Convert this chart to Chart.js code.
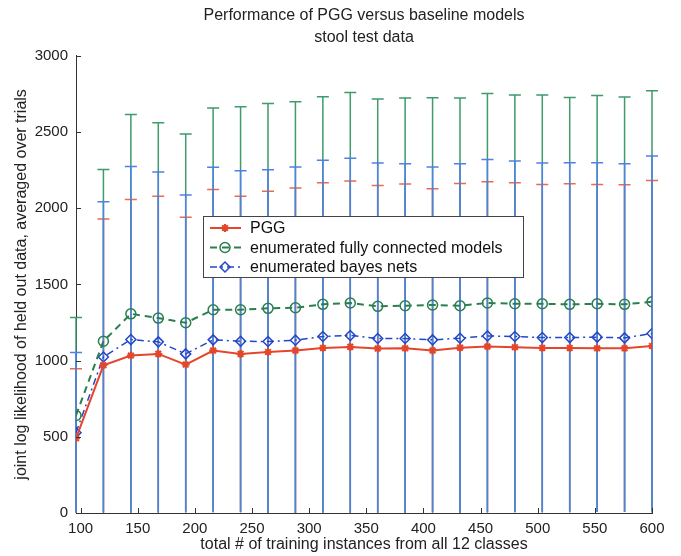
<!DOCTYPE html>
<html lang="en">
<head>
    <meta charset="UTF-8">
    <title>Performance of PGG versus baseline models</title>
    <style>
        body {
            margin: 0;
            background: white;
        }
        #chart {
            display: block;
        }
    </style>
</head>
<body>
    <canvas id="chart" width="681" height="556"></canvas>

    <script src="https://cdn.jsdelivr.net/npm/chart.js"></script>
    <script>
        // training set sizes (x) and tick labels
        const trainSizes = [96, 120, 144, 168, 192, 216, 240, 264, 288, 312, 336, 360, 384, 408, 432, 456, 480, 504, 528, 552, 576, 600];
        const xTicks = [100, 150, 200, 250, 300, 350, 400, 450, 500, 550, 600];
        const yTicks = [0, 500, 1000, 1500, 2000, 2500, 3000];

        // means and top of error bar for each model
        const pgg = [490, 969, 1033, 1044, 974, 1066, 1044, 1057, 1066, 1083, 1090, 1079, 1081, 1066, 1085, 1092, 1088, 1083, 1083, 1081, 1081, 1096];
        const pggHi = [947, 1929, 2057, 2079, 1940, 2123, 2079, 2112, 2133, 2167, 2178, 2149, 2158, 2127, 2162, 2173, 2167, 2156, 2160, 2156, 2154, 2182];
        const fullyConn = [640, 1127, 1307, 1279, 1248, 1334, 1334, 1343, 1347, 1369, 1378, 1356, 1360, 1365, 1360, 1378, 1373, 1373, 1369, 1373, 1369, 1386];
        const fullyConnHi = [1283, 2254, 2615, 2560, 2487, 2658, 2665, 2687, 2698, 2731, 2760, 2716, 2723, 2725, 2723, 2752, 2742, 2742, 2727, 2740, 2729, 2771];
        const bayesNets = [527, 1024, 1138, 1123, 1044, 1136, 1127, 1125, 1134, 1158, 1165, 1145, 1145, 1136, 1147, 1162, 1158, 1151, 1151, 1154, 1149, 1178];
        const bayesNetsHi = [1053, 2043, 2274, 2237, 2086, 2268, 2245, 2252, 2270, 2314, 2327, 2297, 2292, 2270, 2292, 2320, 2309, 2297, 2299, 2299, 2292, 2342];

        const FONT = "'Liberation Sans', Arial, sans-serif";
        const RED = '#e4462c';
        const GREEN = '#2a7f4f';
        const BLUE = '#2446c8';

        const toPoints = (ys) => ys.map((y, i) => ({ x: trainSizes[i], y: y }));

        // error bars, drawn under the lines (red first, blue last like the original)
        const errorBars = [
            { mean: pgg, hi: pggHi, color: '#ef6a4a' },
            { mean: fullyConn, hi: fullyConnHi, color: '#3f9a6c' },
            { mean: bayesNets, hi: bayesNetsHi, color: '#4f80e8' }
        ];

        const errorBarPlugin = {
            id: 'errorBars',
            beforeDatasetsDraw(chart) {
                const ctx = chart.ctx;
                const xs = chart.scales.x;
                const ys = chart.scales.y;
                ctx.save();
                ctx.lineWidth = 1.5;
                errorBars.forEach(eb => {
                    ctx.strokeStyle = eb.color;
                    eb.mean.forEach((m, i) => {
                        const lo = Math.max(ys.min, 2 * m - eb.hi[i]);
                        const px = xs.getPixelForValue(trainSizes[i]);
                        const pTop = ys.getPixelForValue(eb.hi[i]);
                        const pLo = ys.getPixelForValue(lo);
                        ctx.beginPath();
                        ctx.moveTo(px, pLo);
                        ctx.lineTo(px, pTop);
                        ctx.moveTo(px - 6, pTop);
                        ctx.lineTo(px + 6, pTop);
                        ctx.stroke();
                    });
                });
                ctx.restore();
            }
        };

        // MATLAB style ticks pointing into the plot
        const innerTicksPlugin = {
            id: 'innerTicks',
            afterDraw(chart) {
                const ctx = chart.ctx;
                const area = chart.chartArea;
                ctx.save();
                ctx.strokeStyle = '#333';
                ctx.lineWidth = 1;
                ctx.beginPath();
                yTicks.forEach(v => {
                    const py = Math.round(chart.scales.y.getPixelForValue(v)) + 0.5;
                    ctx.moveTo(area.left, py);
                    ctx.lineTo(area.left + 5, py);
                });
                xTicks.forEach(v => {
                    const px = Math.round(chart.scales.x.getPixelForValue(v)) + 0.5;
                    ctx.moveTo(px, area.bottom);
                    ctx.lineTo(px, area.bottom - 5);
                });
                ctx.stroke();
                ctx.restore();
            }
        };

        // legend box placed inside the plot
        const legendPlugin = {
            id: 'boxLegend',
            afterDraw(chart) {
                const ctx = chart.ctx;
                const x0 = 203, y0 = 216, w = 320, h = 61;
                ctx.save();
                ctx.fillStyle = 'white';
                ctx.fillRect(x0, y0, w, h);
                ctx.strokeStyle = '#444';
                ctx.lineWidth = 1;
                ctx.strokeRect(x0 + 0.5, y0 + 0.5, w, h);
                ctx.font = '16px ' + FONT;
                ctx.textBaseline = 'middle';
                chart.data.datasets.forEach((ds, i) => {
                    const y = y0 + 12 + i * 19.5;
                    ctx.strokeStyle = ds.borderColor;
                    ctx.lineWidth = ds.borderWidth;
                    ctx.setLineDash(ds.borderDash || []);
                    ctx.beginPath();
                    ctx.moveTo(x0 + 7, y);
                    ctx.lineTo(x0 + 38, y);
                    ctx.stroke();
                    ctx.setLineDash([]);
                    ctx.fillStyle = ds.pointBackgroundColor;
                    ctx.strokeStyle = ds.pointBorderColor;
                    ctx.lineWidth = ds.pointBorderWidth;
                    Chart.helpers.drawPoint(ctx, {
                        pointStyle: ds.pointStyle,
                        radius: ds.pointRadius,
                        borderWidth: ds.pointBorderWidth
                    }, x0 + 22, y);
                    ctx.fillStyle = '#111';
                    ctx.fillText(ds.label, x0 + 47, y + 1);
                });
                ctx.restore();
            }
        };

        const ctx = document.getElementById('chart').getContext('2d');

        new Chart(ctx, {
            type: 'line',
            data: {
                datasets: [
                    {
                        label: 'PGG',
                        data: toPoints(pgg),
                        borderColor: RED,
                        backgroundColor: RED,
                        borderWidth: 2,
                        pointStyle: 'star',
                        pointRadius: 4,
                        pointBorderWidth: 2,
                        pointBackgroundColor: RED,
                        pointBorderColor: RED
                    },
                    {
                        label: 'enumerated fully connected models',
                        data: toPoints(fullyConn),
                        borderColor: GREEN,
                        borderWidth: 2,
                        borderDash: [7, 5],
                        pointStyle: 'circle',
                        pointRadius: 5,
                        pointBorderWidth: 1.5,
                        pointBackgroundColor: 'rgba(0,0,0,0)',
                        pointBorderColor: GREEN
                    },
                    {
                        label: 'enumerated bayes nets',
                        data: toPoints(bayesNets),
                        borderColor: BLUE,
                        borderWidth: 1.5,
                        borderDash: [7, 4, 2, 4],
                        pointStyle: 'rectRot',
                        pointRadius: 5,
                        pointBorderWidth: 1.5,
                        pointBackgroundColor: 'rgba(0,0,0,0)',
                        pointBorderColor: BLUE
                    }
                ]
            },
            options: {
                responsive: false,
                animation: false,
                layout: {
                    padding: { left: 0, right: 29, top: 0, bottom: 0 }
                },
                plugins: {
                    legend: { display: false },
                    tooltip: { enabled: false },
                    title: {
                        display: true,
                        fullSize: false,
                        text: ['Performance of PGG versus baseline models', 'stool test data'],
                        color: '#222',
                        font: { family: FONT, size: 16, weight: 'normal', lineHeight: 1.4 },
                        padding: { top: 4, bottom: 7 }
                    }
                },
                scales: {
                    x: {
                        type: 'linear',
                        min: 96,
                        max: 600,
                        afterBuildTicks: (scale) => {
                            scale.ticks = xTicks.map(v => ({ value: v }));
                        },
                        afterFit: (scale) => { scale.height = 43; },
                        ticks: {
                            color: '#222',
                            padding: 7,
                            maxRotation: 0,
                            autoSkip: false,
                            font: { family: FONT, size: 15 },
                            callback: (value) => String(value)
                        },
                        grid: { display: false, drawTicks: false },
                        border: { display: true, color: '#333', width: 1 },
                        title: {
                            display: true,
                            text: 'total # of training instances from all 12 classes',
                            color: '#222',
                            font: { family: FONT, size: 16 },
                            padding: { top: 2, bottom: 2 }
                        }
                    },
                    y: {
                        min: 0,
                        max: 3000,
                        afterBuildTicks: (scale) => {
                            scale.ticks = yTicks.map(v => ({ value: v }));
                        },
                        afterFit: (scale) => { scale.width = 76; },
                        ticks: {
                            color: '#222',
                            padding: 8,
                            font: { family: FONT, size: 15 },
                            callback: (value) => String(value)
                        },
                        grid: { display: false, drawTicks: false },
                        border: { display: true, color: '#333', width: 1 },
                        title: {
                            display: true,
                            text: 'joint log likelihood of held out data, averaged over trials',
                            color: '#222',
                            font: { family: FONT, size: 16 },
                            padding: { top: 12, bottom: 4 }
                        }
                    }
                }
            },
            plugins: [errorBarPlugin, innerTicksPlugin, legendPlugin]
        });
    </script>
</body>
</html>
